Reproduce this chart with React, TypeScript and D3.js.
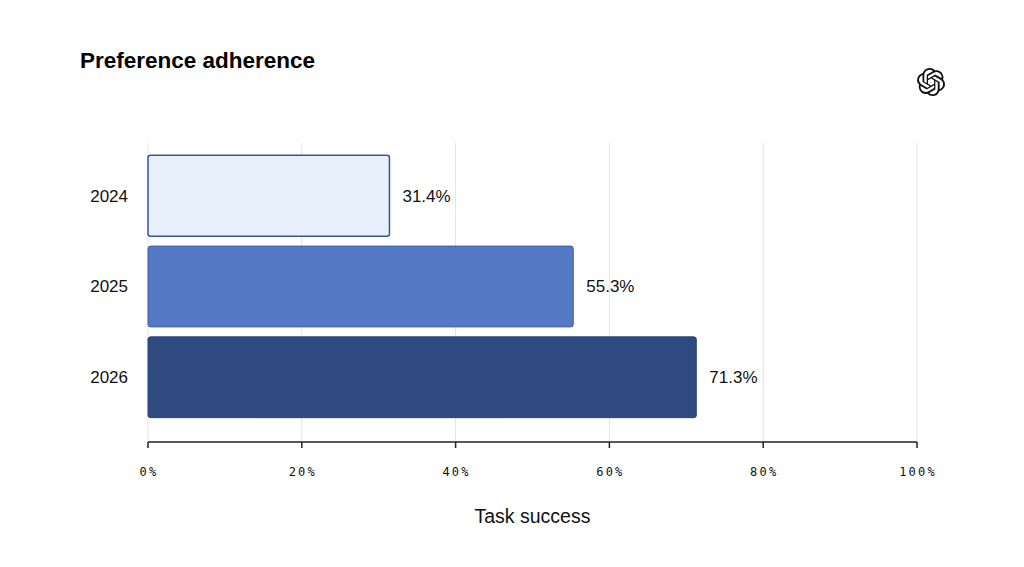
import React from "react";
import * as d3 from "d3";

const categories = ["2024", "2025", "2026"];
const values = [31.4, 55.3, 71.3];
const fills = ["#e8f0fc", "#5479c5", "#2e4a80"];
const ticks = [0, 20, 40, 60, 80, 100];
const title = "Preference adherence";
const xTitle = "Task success";

const W = 1024;
const H = 567;
const left = 148;
const right = 917;
const top = 145;
const bottom = 442;

const logoPath =
  "M22.2819 9.8211a5.9847 5.9847 0 0 0-.5157-4.9108 6.0462 6.0462 0 0 0-6.5098-2.9A6.0651 6.0651 0 0 0 4.9807 4.1818a5.9847 5.9847 0 0 0-3.9977 2.9 6.0462 6.0462 0 0 0 .7427 7.0966 5.98 5.98 0 0 0 .511 4.9107 6.051 6.051 0 0 0 6.5146 2.9001A5.9847 5.9847 0 0 0 13.2599 24a6.0557 6.0557 0 0 0 5.7718-4.2058 5.9894 5.9894 0 0 0 3.9977-2.9001 6.0557 6.0557 0 0 0-.7475-7.0729zm-9.022 12.6081a4.4755 4.4755 0 0 1-2.8764-1.0408l.1419-.0804 4.7783-2.7582a.7948.7948 0 0 0 .3927-.6813v-6.7369l2.02 1.1686a.071.071 0 0 1 .038.052v5.5826a4.504 4.504 0 0 1-4.4945 4.4944zm-9.6607-4.1254a4.4708 4.4708 0 0 1-.5346-3.0137l.142.0852 4.783 2.7582a.7712.7712 0 0 0 .7806 0l5.8428-3.3685v2.3324a.0804.0804 0 0 1-.0332.0615L9.74 19.9502a4.4992 4.4992 0 0 1-6.1408-1.6464zM2.3408 7.8956a4.485 4.485 0 0 1 2.3655-1.9728V11.6a.7664.7664 0 0 0 .3879.6765l5.8144 3.3543-2.0201 1.1685a.0757.0757 0 0 1-.071 0l-4.8303-2.7865A4.504 4.504 0 0 1 2.3408 7.872zm16.5963 3.8558L13.1038 8.364 15.1192 7.2a.0757.0757 0 0 1 .071 0l4.8303 2.7913a4.4944 4.4944 0 0 1-.6765 8.1042v-5.6772a.79.79 0 0 0-.407-.667zm2.0107-3.0231l-.142-.0852-4.7735-2.7818a.7759.7759 0 0 0-.7854 0L9.409 9.2297V6.8974a.0662.0662 0 0 1 .0284-.0615l4.8303-2.7866a4.4992 4.4992 0 0 1 6.6802 4.66zM8.3065 12.863l-2.02-1.1638a.0804.0804 0 0 1-.038-.0567V6.0742a4.4992 4.4992 0 0 1 7.3757-3.4537l-.142.0805L8.704 5.459a.7948.7948 0 0 0-.3927.6813zm1.0976-2.3654l2.602-1.4998 2.6069 1.4998v2.9994l-2.5974 1.4997-2.6067-1.4997Z";

export default function App() {
  const x = d3.scaleLinear().domain([0, 100]).range([left, right]);
  const y = d3
    .scaleBand()
    .domain(categories)
    .range([top + 4, bottom - 18])
    .paddingInner(0.11)
    .paddingOuter(0.07);
  const sans = "'Liberation Sans', Arial, Helvetica, sans-serif";
  const mono = "'DejaVu Sans Mono', 'Liberation Mono', monospace";

  return (
    <svg
      width={W}
      height={H}
      viewBox={`0 0 ${W} ${H}`}
      style={{ position: "absolute", left: 0, top: 0, background: "#fff" }}
    >
      <rect x={0} y={0} width={W} height={H} fill="#fff" />
      <text x={80} y={68} fontFamily={sans} fontSize={22.5} fontWeight={700} fill="#000">
        {title}
      </text>
      <g transform="translate(917,68) scale(1.17)">
        <path d={logoPath} fill="#111" />
      </g>
      {ticks.map((t) => (
        <line
          key={"g" + t}
          x1={x(t)}
          x2={x(t)}
          y1={top - 2}
          y2={bottom}
          stroke="#e3e3e3"
          strokeWidth={1}
        />
      ))}
      {categories.map((c, i) => {
        const y0 = y(c)!;
        const bw = y.bandwidth();
        return (
          <g key={c}>
            <rect
              x={x(0)}
              y={y0}
              width={x(values[i]) - x(0)}
              height={bw}
              rx={2.5}
              fill={fills[i]}
              stroke={i === 0 ? "#3a5597" : i === 1 ? "#3f5fa8" : "#2a4478"}
              strokeWidth={i === 0 ? 1.5 : 1}
            />
            <text
              x={x(values[i]) + 13}
              y={y0 + bw / 2}
              dy="0.35em"
              fontFamily={sans}
              fontSize={17}
              fill="#111"
            >
              {values[i].toFixed(1)}%
            </text>
            <text
              x={128}
              y={y0 + bw / 2}
              dy="0.35em"
              textAnchor="end"
              fontFamily={sans}
              fontSize={17}
              fill="#111"
            >
              {c}
            </text>
          </g>
        );
      })}
      <line x1={x(0)} x2={x(100)} y1={bottom} y2={bottom} stroke="#222" strokeWidth={1.5} />
      {ticks.map((t) => (
        <g key={"t" + t}>
          <line x1={x(t)} x2={x(t)} y1={bottom} y2={bottom + 6} stroke="#222" strokeWidth={1.5} />
          <text
            x={x(t) + 1}
            y={476}
            textAnchor="middle"
            fontFamily={mono}
            fontSize={12}
            letterSpacing={2.2}
            fill="#111"
          >
            {t}%
          </text>
        </g>
      ))}
      <text
        x={(x(0) + x(100)) / 2}
        y={523}
        textAnchor="middle"
        fontFamily={sans}
        fontSize={19.5}
        fill="#111"
      >
        {xTitle}
      </text>
    </svg>
  );
}
